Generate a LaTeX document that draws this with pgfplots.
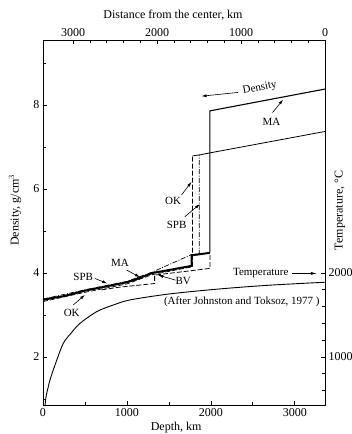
\documentclass[border=0pt]{standalone}
\usepackage{fontspec}
\setmainfont{Liberation Serif}
\usepackage{pgfplots}
\pgfplotsset{compat=1.18}
\usetikzlibrary{arrows.meta}
\pgfplotstableread{
d T
22 400
36 527
63 646
83 726
143 905
242 1163
340 1290
440 1400
640 1540
840 1620
1040 1680
1500 1750
2100 1810
2700 1855
3360 1890
}\temptable
\begin{document}
\begin{tikzpicture}[font=\fontsize{12}{14}\selectfont]
\path[use as bounding box] (-43pt,-29pt) rectangle (309pt,405pt);
\begin{axis}[
 at={(0pt,0pt)}, anchor=south west, scale only axis, width=282pt, height=365pt,
 xmin=0, xmax=3360, ymin=0.857, ymax=9.548,
 xtick={0,1000,2000,3000}, minor xtick={500,1500,2500},
 ytick={2,4,6,8}, minor ytick={1,3,5,7,9},
 xtick pos=left, ytick pos=left, tick align=inside,
 major tick length=4pt, minor tick length=3pt,
 xlabel={Depth, km}, ylabel={Density, g/cm$^3$},
 xlabel style={at={(axis description cs:0.472,0)}, anchor=center, yshift=-23pt},
 ylabel style={at={(axis description cs:-0.099,0.534)}, anchor=center},
 /pgf/number format/assume math mode=true,
 /pgf/number format/set thousands separator={},
 axis line style={line width=0.9pt}, tick style={line width=0.7pt,black},
 clip=true,
]
% MA
\addplot[black, line width=2pt] coordinates {(0,3.36) (100,3.40) (250,3.45) (500,3.58) (750,3.68) (1000,3.78) (1150,3.88) (1300,4.0) (1500,4.07) (1770,4.17) (1770,4.42) (1988,4.48)};
\addplot[black, line width=1.1pt] coordinates {(1988,4.48) (1988,7.86) (3360,8.38)};
% OK
\addplot[black, line width=0.7pt, dash pattern=on 5pt off 2pt] coordinates {(0,3.32) (500,3.54) (1000,3.74) (1300,3.96) (1782,4.15) (1782,6.79)};
% SPB
\addplot[black, line width=0.7pt, dash pattern=on 5pt off 1.5pt on 1pt off 1.5pt] coordinates {(0,3.38) (500,3.60) (1000,3.80) (1300,4.02) (1770,4.44) (1861,4.46) (1861,6.81)};
% core OK/SPB
\addplot[black, line width=0.8pt] coordinates {(1782,6.79) (1861,6.81) (1988,6.86) (3360,7.37)};
% BV
\addplot[black, line width=0.8pt, dash pattern=on 5pt off 2pt] coordinates {(700,3.60) (900,3.66) (1330,3.75) (1330,3.95) (1990,4.11) (1990,4.47)};
% annotations
\node[font=\fontsize{11}{13}\selectfont, rotate=11] at (axis cs:2583,8.40) {Density};
\draw[-{Latex[length=5pt,width=3pt]}, line width=0.6pt] (axis cs:2325,8.30) -- (axis cs:1889,8.21);
\node[font=\fontsize{11}{13}\selectfont] at (axis cs:2723,7.60) {MA};
\draw[-{Latex[length=5pt,width=3pt]}, line width=0.6pt] (axis cs:2735,7.82) -- (axis cs:2861,8.13);
\node[font=\fontsize{11}{13}\selectfont] at (axis cs:1551,5.72) {OK};
\draw[-{Latex[length=5pt,width=3pt]}, line width=0.6pt] (axis cs:1651,5.86) -- (axis cs:1770,6.17);
\node[font=\fontsize{11}{13}\selectfont] at (axis cs:1592,5.14) {SPB};
\draw[-{Latex[length=5pt,width=3pt]}, line width=0.6pt] (axis cs:1690,5.34) -- (axis cs:1869,5.64);
\node[font=\fontsize{11}{13}\selectfont] at (axis cs:480,3.91) {SPB};
\draw[-{Latex[length=5pt,width=3pt]}, line width=0.6pt] (axis cs:619,3.87) -- (axis cs:765,3.75);
\node[font=\fontsize{11}{13}\selectfont] at (axis cs:917,4.23) {MA};
\draw[-{Latex[length=5pt,width=3pt]}, line width=0.6pt] (axis cs:996,4.07) -- (axis cs:1155,3.90);
\node[font=\fontsize{11}{13}\selectfont] at (axis cs:1670,3.81) {BV};
\draw[-{Latex[length=5pt,width=3pt]}, line width=0.6pt] (axis cs:1580,3.83) -- (axis cs:1373,3.95);
\node[font=\fontsize{11}{13}\selectfont] at (axis cs:342,3.05) {OK};
\draw[-{Latex[length=5pt,width=3pt]}, line width=0.6pt] (axis cs:361,3.24) -- (axis cs:500,3.48);
\node[font=\fontsize{11}{13}\selectfont] at (axis cs:2595,3.99) {Temperature};
\draw[-{Latex[length=6pt,width=3pt]}, line width=0.6pt] (axis cs:2964,3.99) -- (axis cs:3262,3.99);
\node[font=\fontsize{11}{13}\selectfont] at (axis cs:2369,3.31) {(After Johnston and Toksoz, 1977 )};
\end{axis}
\begin{axis}[
 at={(0pt,0pt)}, anchor=south west, scale only axis, width=282pt, height=365pt,
 xmin=0, xmax=3360, ymin=428.6, ymax=4774,
 xtick={360,1360,2360,3360}, xticklabels={3000,2000,1000,0},
 minor xtick={560,760,...,3160},
 ytick={1000,2000}, minor ytick={600,800,1200,1400,1600,1800},
 xtick pos=right, xticklabel pos=right, ytick pos=right, yticklabel pos=right,
 tick align=inside,
 major tick length=4pt, minor tick length=3pt,
 xlabel={Distance from the center, km},
 xlabel style={at={(axis description cs:0.461,1)}, anchor=center, yshift=25pt},
 /pgf/number format/assume math mode=true,
 /pgf/number format/set thousands separator={},
 axis line style={line width=0.9pt}, tick style={line width=0.7pt,black},
 clip=true,
]
\addplot[black, line width=0.9pt, smooth] table[x=d, y=T] {\temptable};
\end{axis}
\node[rotate=90, anchor=center] at (297pt,194.5pt) {Temperature, \textdegree C};
\end{tikzpicture}
\end{document}
